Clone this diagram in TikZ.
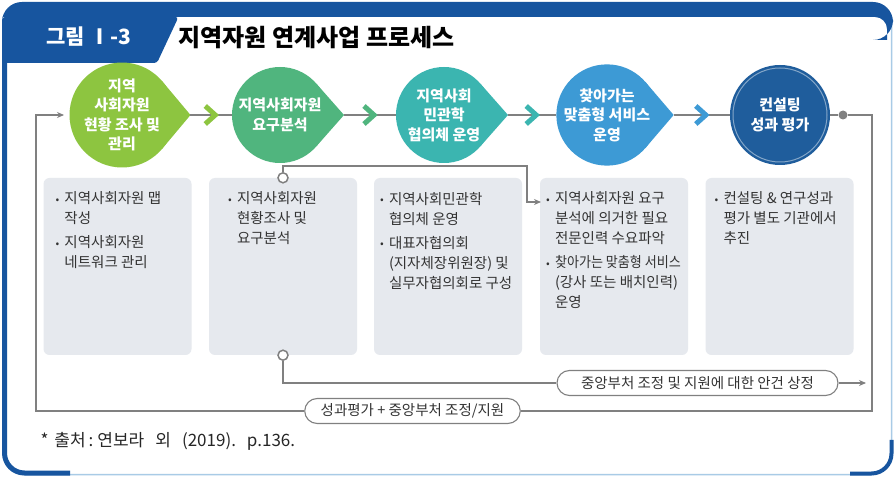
\documentclass[tikz,border=0pt]{standalone}
\usepackage{fontspec}
\setmainfont{Noto Sans CJK KR}
\usetikzlibrary{arrows.meta,calc,backgrounds}

\definecolor{hdblue}{HTML}{17559F}
\definecolor{rimblue}{HTML}{A9CBE6}
\definecolor{stepA}{HTML}{8DC540}
\definecolor{stepB}{HTML}{50B57E}
\definecolor{stepC}{HTML}{3BB5B0}
\definecolor{stepD}{HTML}{3D9AD5}
\definecolor{stepE}{HTML}{1F5D9C}
\definecolor{boxgray}{HTML}{E6E9EE}
\definecolor{linegray}{HTML}{808080}
\definecolor{textgray}{HTML}{333333}

\newcommand{\bul}{\makebox[9pt][l]{\raisebox{0.1ex}{\scalebox{0.75}{•}}}}
\newcommand{\ind}{\hspace*{9pt}}

\tikzset{
    stage/.style={circle, fill=#1, text=white, inner sep=0pt, outer sep=0pt, minimum size=96pt, align=center, font=\fontsize{15}{19.5}\selectfont\bfseries},
    notebox/.style={rectangle, rounded corners=6pt, fill=boxgray, minimum width=148pt, minimum height=177pt, inner sep=0pt},
    notetext/.style={anchor=north west, align=left, inner sep=0pt, text=textgray, font=\fontsize{14.5}{20}\selectfont},
    chevron/.style={draw=#1, line width=5pt},
    flow/.style={draw=linegray, line width=1.1pt},
    flowarrow/.style={-{Stealth[length=7pt,width=6pt]}},
    port/.style={circle, draw=linegray, line width=1.5pt, fill=white, inner sep=0pt, minimum size=10pt},
    pill/.style={draw=linegray, line width=1.1pt, fill=white, rounded corners=12.5pt, minimum height=25pt, inner xsep=16pt, text=textgray, font=\fontsize{14.5}{16}\selectfont},
}

\begin{document}
\begin{tikzpicture}[x=1pt, y=-1pt]
        \useasboundingbox (0,0) rectangle (895,478);

        \draw[rimblue, line width=1.5pt, rounded corners=20pt] (3.5,3.5) rectangle (891.5,474.5);
        \fill[hdblue] (2,60) [rounded corners=20pt] -- (2,2) -- (893,2) -- (893,40) [sharp corners] -- (887,40) [rounded corners=12pt] -- (887,17) [sharp corners] -- (2,17) -- cycle;
        \fill[hdblue, rounded corners=3pt] (2,17) -- (178.5,17) -- (157,63) -- (2,63) -- cycle;
        \draw[hdblue, line width=5pt, rounded corners=20pt] (4.5,40) -- (4.5,473) -- (70,473);
        \draw[hdblue, line width=4pt, rounded corners=20pt] (850,473.5) -- (891.5,473.5) -- (891.5,440);

        \node[text=white, font=\fontsize{21}{24}\selectfont\bfseries] (fig-label) at (89,37) {그림 Ⅰ-3};
        \node[anchor=west, font=\fontsize{24}{27}\selectfont\bfseries] (fig-title) at (175,38) {지역자원 연계사업 프로세스};

        \node[stage=stepA] (res-survey) at (122,115) {지역\\사회자원\\현황 조사 및\\관리};
        \node[stage=stepB] (needs-analysis) at (280,115) {지역사회자원\\요구분석};
        \node[stage=stepC] (council-run) at (444,115) {지역사회\\민관학\\협의체 운영};
        \node[stage=stepD] (visit-service) at (607,115) {찾아가는\\맞춤형 서비스\\운영};
        \node[stage=stepE, minimum size=100pt] (consult-eval) at (780,115) {컨설팅\\성과 평가};
        \draw[white, opacity=0.45, line width=1pt] (consult-eval.center) circle (47);

        \coordinate (res-survey-tip) at ($(res-survey.east)+(16,0)$);
        \coordinate (needs-analysis-tip) at ($(needs-analysis.east)+(16,0)$);
        \coordinate (council-run-tip) at ($(council-run.east)+(16,0)$);
        \coordinate (visit-service-tip) at ($(visit-service.east)+(16,0)$);

        \begin{pgfonlayer}{background}
            \fill[white] (0,0) rectangle (895,478);
            \fill[stepA] (res-survey.41) -- (res-survey-tip) -- (res-survey.-41) -- cycle;
            \fill[stepB] (needs-analysis.41) -- (needs-analysis-tip) -- (needs-analysis.-41) -- cycle;
            \fill[stepC] (council-run.41) -- (council-run-tip) -- (council-run.-41) -- cycle;
            \fill[stepD] (visit-service.41) -- (visit-service-tip) -- (visit-service.-41) -- cycle;
        \end{pgfonlayer}

        \draw[flow] (res-survey-tip) -- (needs-analysis);
        \draw[flow] (needs-analysis-tip) -- (council-run);
        \draw[flow] (council-run-tip) -- (visit-service);
        \draw[flow] (visit-service-tip) -- (consult-eval);

        \coordinate (chev-1) at ($(res-survey-tip)!0.5!(needs-analysis.west)$);
        \coordinate (chev-2) at ($(needs-analysis-tip)!0.5!(council-run.west)$);
        \coordinate (chev-3) at ($(council-run-tip)!0.5!(visit-service.west)$);
        \coordinate (chev-4) at ($(visit-service-tip)!0.5!(consult-eval.west)$);
        \draw[chevron=stepA] ($(chev-1)+(-6,-9)$) -- ($(chev-1)+(4,0)$) -- ($(chev-1)+(-6,9)$);
        \draw[chevron=stepB] ($(chev-2)+(-6,-9)$) -- ($(chev-2)+(4,0)$) -- ($(chev-2)+(-6,9)$);
        \draw[chevron=stepC] ($(chev-3)+(-6,-9)$) -- ($(chev-3)+(4,0)$) -- ($(chev-3)+(-6,9)$);
        \draw[chevron=stepD] ($(chev-4)+(-6,-9)$) -- ($(chev-4)+(4,0)$) -- ($(chev-4)+(-6,9)$);

        \node[notebox] (res-survey-box) at (117.5,266.5) {};
        \node[notebox] (needs-analysis-box) at (283,266.5) {};
        \node[notebox] (council-run-box) at (448,266.5) {};
        \node[notebox] (visit-service-box) at (614,266.5) {};
        \node[notebox] (consult-eval-box) at (779.5,266.5) {};

        \node[notetext] (res-survey-note) at ($(res-survey-box.north west)+(12,14)$) {\bul 지역사회자원 맵\\\ind 작성\\[4pt]\bul 지역사회자원\\\ind 네트워크 관리};
        \node[notetext] (needs-analysis-note) at ($(needs-analysis-box.north west)+(19,14)$) {\bul 지역사회자원\\\ind 현황조사 및\\\ind 요구분석};
        \node[notetext] (council-run-note) at ($(council-run-box.north west)+(6,14)$) {\bul 지역사회민관학\\\ind 협의체 운영\\[4pt]\bul 대표자협의회\\\ind (지자체장위원장) 및\\\ind 실무자협의회로 구성};
        \node[notetext] (visit-service-note) at ($(visit-service-box.north west)+(6,14)$) {\bul 지역사회자원 요구\\\ind 분석에 의거한 필요\\\ind 전문인력 수요파악\\[4pt]\bul \scalebox{0.9}[1]{찾아가는 맞춤형 서비스}\\\ind (강사 또는 배치인력)\\\ind 운영};
        \node[notetext] (consult-eval-note) at ($(consult-eval-box.north west)+(9,14)$) {\bul 컨설팅 \& 연구성과\\\ind 평가 별도 기관에서\\\ind 추진};

        \node[port] (needs-top) at (needs-analysis-box.north) {};
        \node[port] (needs-bottom) at (needs-analysis-box.south) {};
        \coordinate (top-bend) at (527,166);
        \coordinate (service-in) at (541,202);
        \draw[flow, flowarrow] (needs-top) |- (top-bend) |- (service-in);

        \node[pill, minimum width=281pt] (agenda-label) at (697.5,383) {중앙부처 조정 및 지원에 대한 안건 상정};
        \node[pill, minimum width=215pt] (eval-label) at (412.5,411) {성과평가 + 중앙부처 조정/지원};
        \coordinate (agenda-end) at (866,383);
        \draw[flow] (needs-bottom) |- (agenda-label);
        \draw[flow, flowarrow] (agenda-label) -- (agenda-end);

        \node[circle, fill=linegray, inner sep=0pt, minimum size=9pt] (consult-dot) at (843,115) {};
        \coordinate (loop-right) at (872,411);
        \coordinate (loop-left) at (36,411);
        \coordinate (loop-in) at (64,115);
        \draw[flow] (consult-eval) -- (consult-dot);
        \draw[flow] (consult-dot) -| (loop-right) -- (eval-label);
        \draw[flow, flowarrow] (eval-label) -- (loop-left) |- (loop-in);

        \node[anchor=west, text=black!85, font=\fontsize{17}{19}\selectfont] (source-note) at (37,441) {*\hspace{6pt}출처\hspace{3pt}:\hspace{4pt}연보라\hspace{11pt}외\hspace{11pt}(2019).\hspace{11pt}p.136.};
    \end{tikzpicture}
\end{document}
